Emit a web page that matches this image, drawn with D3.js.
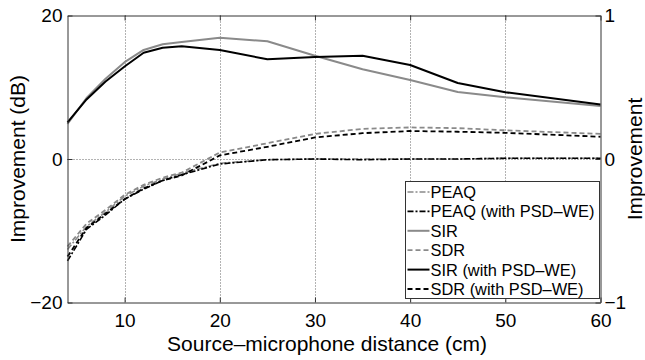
<!DOCTYPE html>
<html>
<head>
<meta charset="utf-8">
<script src="https://cdn.jsdelivr.net/npm/d3@7"></script>
<style>
  html, body { margin: 0; padding: 0; background: #fff; }
  svg { display: block; font-family: "Liberation Sans", Arial, Helvetica, sans-serif; }
</style>
</head>
<body>
<svg id="chart" width="645" height="360"></svg>
<script>
// Source–microphone distance (cm)
const distance = [4, 6, 8, 10, 12, 14, 16, 20, 25, 30, 35, 40, 45, 50, 60];

// Improvement in dB (left axis)
const sir       = [4.9, 8.5, 11.2, 13.5, 15.2, 16.0, 16.3, 16.9, 16.4, 14.4, 12.5, 11.0, 9.35, 8.6, 7.4];
const sirPsd    = [5.1, 8.3, 10.8, 12.9, 14.8, 15.5, 15.7, 15.2, 13.9, 14.2, 14.4, 13.1, 10.6, 9.3, 7.6];
const sdr       = [-12.2, -9.0, -7.1, -5.0, -3.6, -2.6, -1.9, 0.9, 2.2, 3.5, 4.2, 4.4, 4.3, 4.0, 3.5];
const sdrPsd    = [-13.6, -9.6, -7.6, -5.6, -4.1, -3.0, -2.3, 0.5, 1.7, 3.0, 3.6, 3.9, 3.8, 3.65, 3.1];

// PEAQ improvement (right axis)
const peaq      = [-0.63, -0.47, -0.37, -0.26, -0.19, -0.14, -0.10, -0.03, -0.005, 0.0, 0.0, 0.0, 0.0, 0.005, 0.005];
const peaqPsd   = [-0.71, -0.49, -0.39, -0.28, -0.21, -0.15, -0.11, -0.035, -0.005, 0.0, -0.005, 0.0, 0.0, 0.005, 0.005];

const xTicks = [10, 20, 30, 40, 50, 60];
const yTicksLeft = [-20, 0, 20];
const yTicksRight = [-1, 0, 1];

const legendLabels = ["PEAQ", "PEAQ (with PSD\u2013WE)", "SIR", "SDR", "SIR (with PSD\u2013WE)", "SDR (with PSD\u2013WE)"];

const GRAY = "#8a8a8a";
const BLACK = "#000";
const DASH = "5,3";
const DASHDOT = "6,2,2,2";

const series = [
  { values: peaq,    axis: "right", color: GRAY,  dash: DASHDOT, width: 1.6 },
  { values: peaqPsd, axis: "right", color: BLACK, dash: DASHDOT, width: 1.6 },
  { values: sir,     axis: "left",  color: GRAY,  dash: null,    width: 2 },
  { values: sdr,     axis: "left",  color: GRAY,  dash: DASH,    width: 1.8 },
  { values: sirPsd,  axis: "left",  color: BLACK, dash: null,    width: 2 },
  { values: sdrPsd,  axis: "left",  color: BLACK, dash: DASH,    width: 1.8 }
];

const svg = d3.select("#chart");
const m = { left: 67.5, right: 600.5, top: 15.5, bottom: 302.5 };

const x = d3.scaleLinear().domain([4, 60]).range([m.left, m.right]);
const yL = d3.scaleLinear().domain([-20, 20]).range([m.bottom, m.top]);
const yR = d3.scaleLinear().domain([-1, 1]).range([m.bottom, m.top]);

// dotted grid
const grid = svg.append("g").attr("stroke", "#666").attr("stroke-width", 1)
  .attr("stroke-dasharray", "1,2");
[10, 20, 30, 40, 50].forEach(v => {
  grid.append("line").attr("x1", Math.round(x(v)) + 0.5).attr("x2", Math.round(x(v)) + 0.5)
    .attr("y1", m.top).attr("y2", m.bottom);
});
grid.append("line").attr("x1", m.left).attr("x2", m.right)
  .attr("y1", Math.round(yL(0)) + 0.5).attr("y2", Math.round(yL(0)) + 0.5);

// curves
const plot = svg.append("g");
series.forEach(s => {
  const ys = s.axis === "left" ? yL : yR;
  const line = d3.line().x((d, i) => x(distance[i])).y(d => ys(d));
  plot.append("path")
    .datum(s.values)
    .attr("d", line)
    .attr("fill", "none")
    .attr("stroke", s.color)
    .attr("stroke-width", s.width)
    .attr("stroke-dasharray", s.dash)
    .attr("stroke-linejoin", "round");
});

// axes (ticks point inward)
const axisColor = "#333";
const fs = 19;
const minus = d => d < 0 ? "\u2212" + Math.abs(d) : d;
const gB = svg.append("g").attr("transform", `translate(0,${m.bottom})`)
  .call(d3.axisBottom(x).tickValues(xTicks).tickSizeInner(-5).tickSizeOuter(0).tickPadding(11));
const gT = svg.append("g").attr("transform", `translate(0,${m.top})`)
  .call(d3.axisTop(x).tickValues(xTicks).tickSizeInner(-5).tickSizeOuter(0).tickFormat(""));
const gL = svg.append("g").attr("transform", `translate(${m.left},0)`)
  .call(d3.axisLeft(yL).tickValues(yTicksLeft).tickSizeInner(-5).tickSizeOuter(0).tickPadding(5)
    .tickFormat(minus));
const gR = svg.append("g").attr("transform", `translate(${m.right},0)`)
  .call(d3.axisRight(yR).tickValues(yTicksRight).tickSizeInner(-5).tickSizeOuter(0).tickPadding(4)
    .tickFormat(minus));
[gB, gT, gL, gR].forEach(g => {
  g.select(".domain").attr("stroke", axisColor);
  g.selectAll(".tick line").attr("stroke", axisColor);
  g.selectAll(".tick text").attr("fill", "#000").attr("font-size", fs)
    .attr("font-family", "Liberation Sans, Arial, sans-serif");
});

// axis titles
const tfs = 21;
svg.append("text").attr("x", 327).attr("y", 351)
  .attr("text-anchor", "middle").attr("font-size", tfs).text("Source\u2013microphone distance (cm)");
svg.append("text").attr("transform", `translate(25,${(m.top + m.bottom) / 2}) rotate(-90)`)
  .attr("text-anchor", "middle").attr("font-size", tfs).text("Improvement (dB)");
svg.append("text").attr("transform", `translate(642,${(m.top + m.bottom) / 2}) rotate(-90)`)
  .attr("text-anchor", "middle").attr("font-size", tfs).text("Improvement");

// legend
const lg = svg.append("g");
const lx = 405.5, ly = 181.5, lw = 194, lh = 117;
lg.append("rect").attr("x", lx).attr("y", ly).attr("width", lw).attr("height", lh)
  .attr("fill", "#fff").attr("stroke", axisColor).attr("stroke-width", 1);
series.forEach((s, i) => {
  const yy = ly + 10.5 + i * 19.4;
  lg.append("line").attr("x1", lx + 2).attr("x2", lx + 24).attr("y1", yy).attr("y2", yy)
    .attr("stroke", s.color).attr("stroke-width", s.width).attr("stroke-dasharray", s.dash);
  lg.append("text").attr("x", lx + 25).attr("y", yy).attr("dy", "0.36em")
    .attr("font-size", 16.4).text(legendLabels[i]);
});
</script>
</body>
</html>
